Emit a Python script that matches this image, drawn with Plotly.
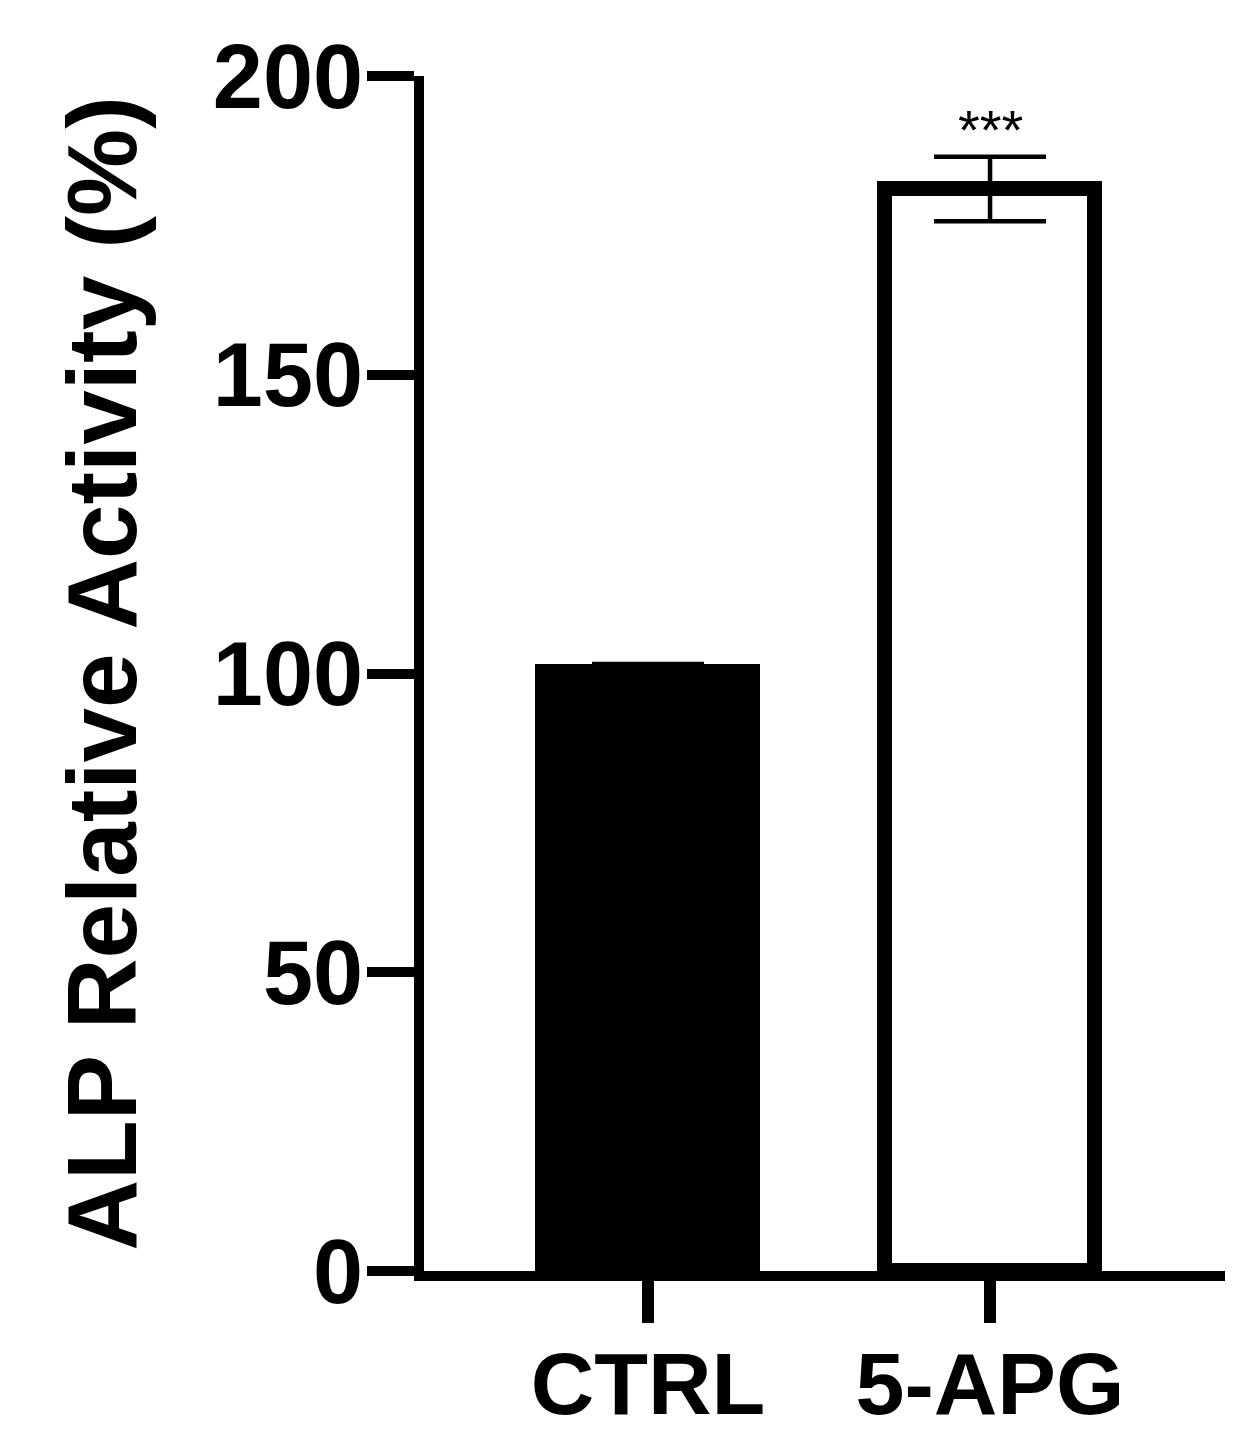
import plotly.graph_objects as go

# data
groups = ["CTRL", "5-APG"]
means = [100.3, 181.1]
sems = [1.3, 5.4]
bar_colors = ["#000000", "#ffffff"]
sig_labels = ["", "***"]
y_ticks = [0, 50, 100, 150, 200]

FONT = "Liberation Sans, Arial, Helvetica, sans-serif"

fig = go.Figure(
    go.Bar(
        x=groups,
        y=means,
        width=0.615,
        marker=dict(color=bar_colors, line=dict(color="black", width=15)),
        error_y=dict(
            type="data",
            array=sems,
            visible=True,
            color="black",
            thickness=4.5,
            width=56,
        ),
        hovertemplate="<b>%{x}</b><br>%{y:.1f}%<extra></extra>",
    )
)

for g, m, s, lbl in zip(groups, means, sems, sig_labels):
    if not lbl:
        continue
    fig.add_annotation(
        x=g,
        y=m + s - 1.1,
        text=lbl,
        showarrow=False,
        yanchor="bottom",
        font=dict(family=FONT, size=56, color="black"),
    )

fig.update_layout(
    width=1251,
    height=1450,
    margin=dict(l=416, r=34, t=68, b=187),
    plot_bgcolor="white",
    paper_bgcolor="white",
    showlegend=False,
    bargap=0,
    xaxis=dict(
        range=[-0.655, 1.687],
        showgrid=False,
        zeroline=False,
        showline=True,
        linecolor="black",
        linewidth=10,
        ticks="outside",
        ticklen=42,
        tickwidth=12,
        tickcolor="black",
        ticklabelstandoff=-15,
        tickfont=dict(family=FONT, size=88, color="black", weight="bold"),
        automargin=False,
    ),
    yaxis=dict(
        range=[0, 200],
        tickvals=y_ticks,
        showgrid=False,
        zeroline=False,
        showline=True,
        linecolor="black",
        linewidth=10,
        ticks="outside",
        ticklen=47,
        tickwidth=10,
        tickcolor="black",
        ticklabelstandoff=-14,
        tickfont=dict(family=FONT, size=90, color="black", weight="bold"),
        title=dict(
            text="ALP Relative Activity (%)",
            standoff=48,
            font=dict(family=FONT, size=98, color="black", weight="bold"),
        ),
        automargin=False,
    ),
)

fig.write_html("out.html")
